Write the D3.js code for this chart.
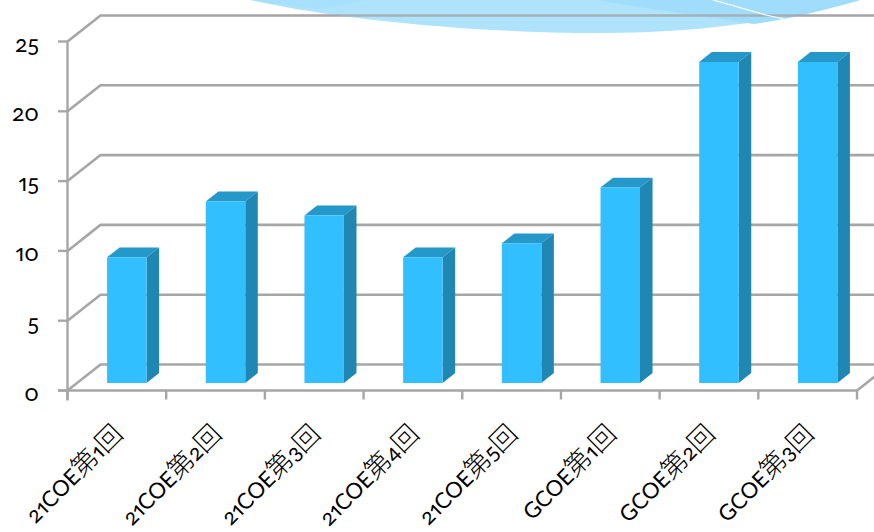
<!DOCTYPE html>
<html><head><meta charset="utf-8">
<script src="https://cdn.jsdelivr.net/npm/d3@7"></script>
<style>
html,body{margin:0;padding:0;background:#fff}
svg{display:block}
text{font-family:Lato,"Noto Sans CJK JP",sans-serif;fill:#000;font-feature-settings:"onum","pnum"}
tspan.cjk{font-family:"Noto Sans CJK JP",sans-serif;font-weight:300}
</style></head><body><svg id="chart" width="874" height="532"></svg>
<script>
// Participant counts per programme session
const categories = ["21COE第1回","21COE第2回","21COE第3回","21COE第4回","21COE第5回","GCOE第1回","GCOE第2回","GCOE第3回"];
const counts = [9,13,12,9,10,14,23,23];
const yTicks = [0,5,10,15,20,25];

const svg = d3.select("#chart");
const x = d3.scaleBand().domain(categories).range([67.5,857]);
const y = d3.scaleLinear().domain([0,25]).range([390.5,41.5]);
// Oblique projection: depth 0 is the front edge of the floor, depth 1 the back wall
const depthX = d3.scaleLinear().domain([0,1]).range([0,33]);
const depthY = d3.scaleLinear().domain([0,1]).range([0,-26]);
const P = (px,v,d)=>[px+depthX(d), y(v)+depthY(d)];
const line = d3.line();
const GRID="#a6a6a6";

// Decorative swoosh along the top edge
const SWOOSH="M251,0 C340,20 480,33 600,33 C690,33 780,22 860,0 Z";
svg.append("path").attr("d",SWOOSH).attr("fill","#b3e4fd");
svg.append("path").attr("d","M251,0 L373,0 C350,3 335,6 317,9 C295,6 270,4 251,0 Z").attr("fill","#a8e1fd");
svg.append("path").attr("d","M596,0 C650,9 710,17 754,24 C790,19 830,9 860,0 Z").attr("fill","#a0dcfc");

// Gridlines on the side and back walls
const grid = svg.append("g").attr("fill","none").attr("stroke",GRID).attr("stroke-width",2.6);
yTicks.forEach(t=>{
  grid.append("path").attr("d",line([P(67.5,t,0),P(67.5,t,1),[874,y(t)-26]]));
});
grid.append("path").attr("d",line([P(857,0,0),P(857,0,1)]));

// Translucent veil over the top gridline, with the thin highlight stroke
svg.append("path").attr("d",SWOOSH).attr("fill","#a0dcfc").attr("opacity",0.18);
svg.append("path").attr("d","M713,0 L766,15 L784,19").attr("fill","none").attr("stroke","#fff").attr("stroke-width",1.2);

// Axis lines and ticks
const axes = svg.append("g").attr("fill","none").attr("stroke",GRID).attr("stroke-width",2.4);
axes.append("path").attr("d",line([[67.5,y(25)],[67.5,y(0)+10]]));
axes.append("path").attr("d",line([[58,y(0)],[857,y(0)]]));
yTicks.forEach(t=>axes.append("path").attr("d",line([[58,y(t)],[67.5,y(t)]])));
[...categories.map(c=>x(c)),857].forEach(px=>axes.append("path").attr("d",line([[px,y(0)],[px,y(0)+9]])));

// Bars as oblique boxes, inset inside each category band
const FRONT=0.29, BACK=0.67, INSET=30, W=39.5;
const bars = svg.append("g").selectAll("g").data(categories.map((c,i)=>({c,v:counts[i],l:x(c)+INSET}))).join("g");
bars.append("path").attr("fill","#2398c9").attr("d",d=>line([P(d.l,d.v,FRONT),P(d.l+W,d.v,FRONT),P(d.l+W,d.v,BACK),P(d.l,d.v,BACK)])+"Z");
bars.append("path").attr("fill","#2086b2").attr("d",d=>line([P(d.l+W,0,FRONT),P(d.l+W,d.v,FRONT),P(d.l+W,d.v,BACK),P(d.l+W,0,BACK)])+"Z");
bars.append("path").attr("fill","#31bfff").attr("d",d=>line([P(d.l,0,FRONT),P(d.l+W,0,FRONT),P(d.l+W,d.v,FRONT),P(d.l,d.v,FRONT)])+"Z");

// Value labels
svg.append("g").selectAll("text").data(yTicks).join("text")
  .attr("x",39).attr("y",t=>y(t)+10).attr("text-anchor","end").attr("font-size",23).text(d=>d);

// Rotated category labels, with the kanji set in a lighter weight
svg.append("g").selectAll("text").data(categories).join("text")
  .attr("text-anchor","end").attr("font-size",22)
  .attr("transform",c=>`translate(${x(c)+57},${y(0)+45}) rotate(-45)`)
  .each(function(c){
    const t=d3.select(this);
    c.match(/[第回]|[^第回]+/g).forEach(s=>t.append("tspan").attr("class",/[第回]/.test(s)?"cjk":null).attr("font-size",/[第回]/.test(s)?26:null).text(s));
  });
</script></body></html>
